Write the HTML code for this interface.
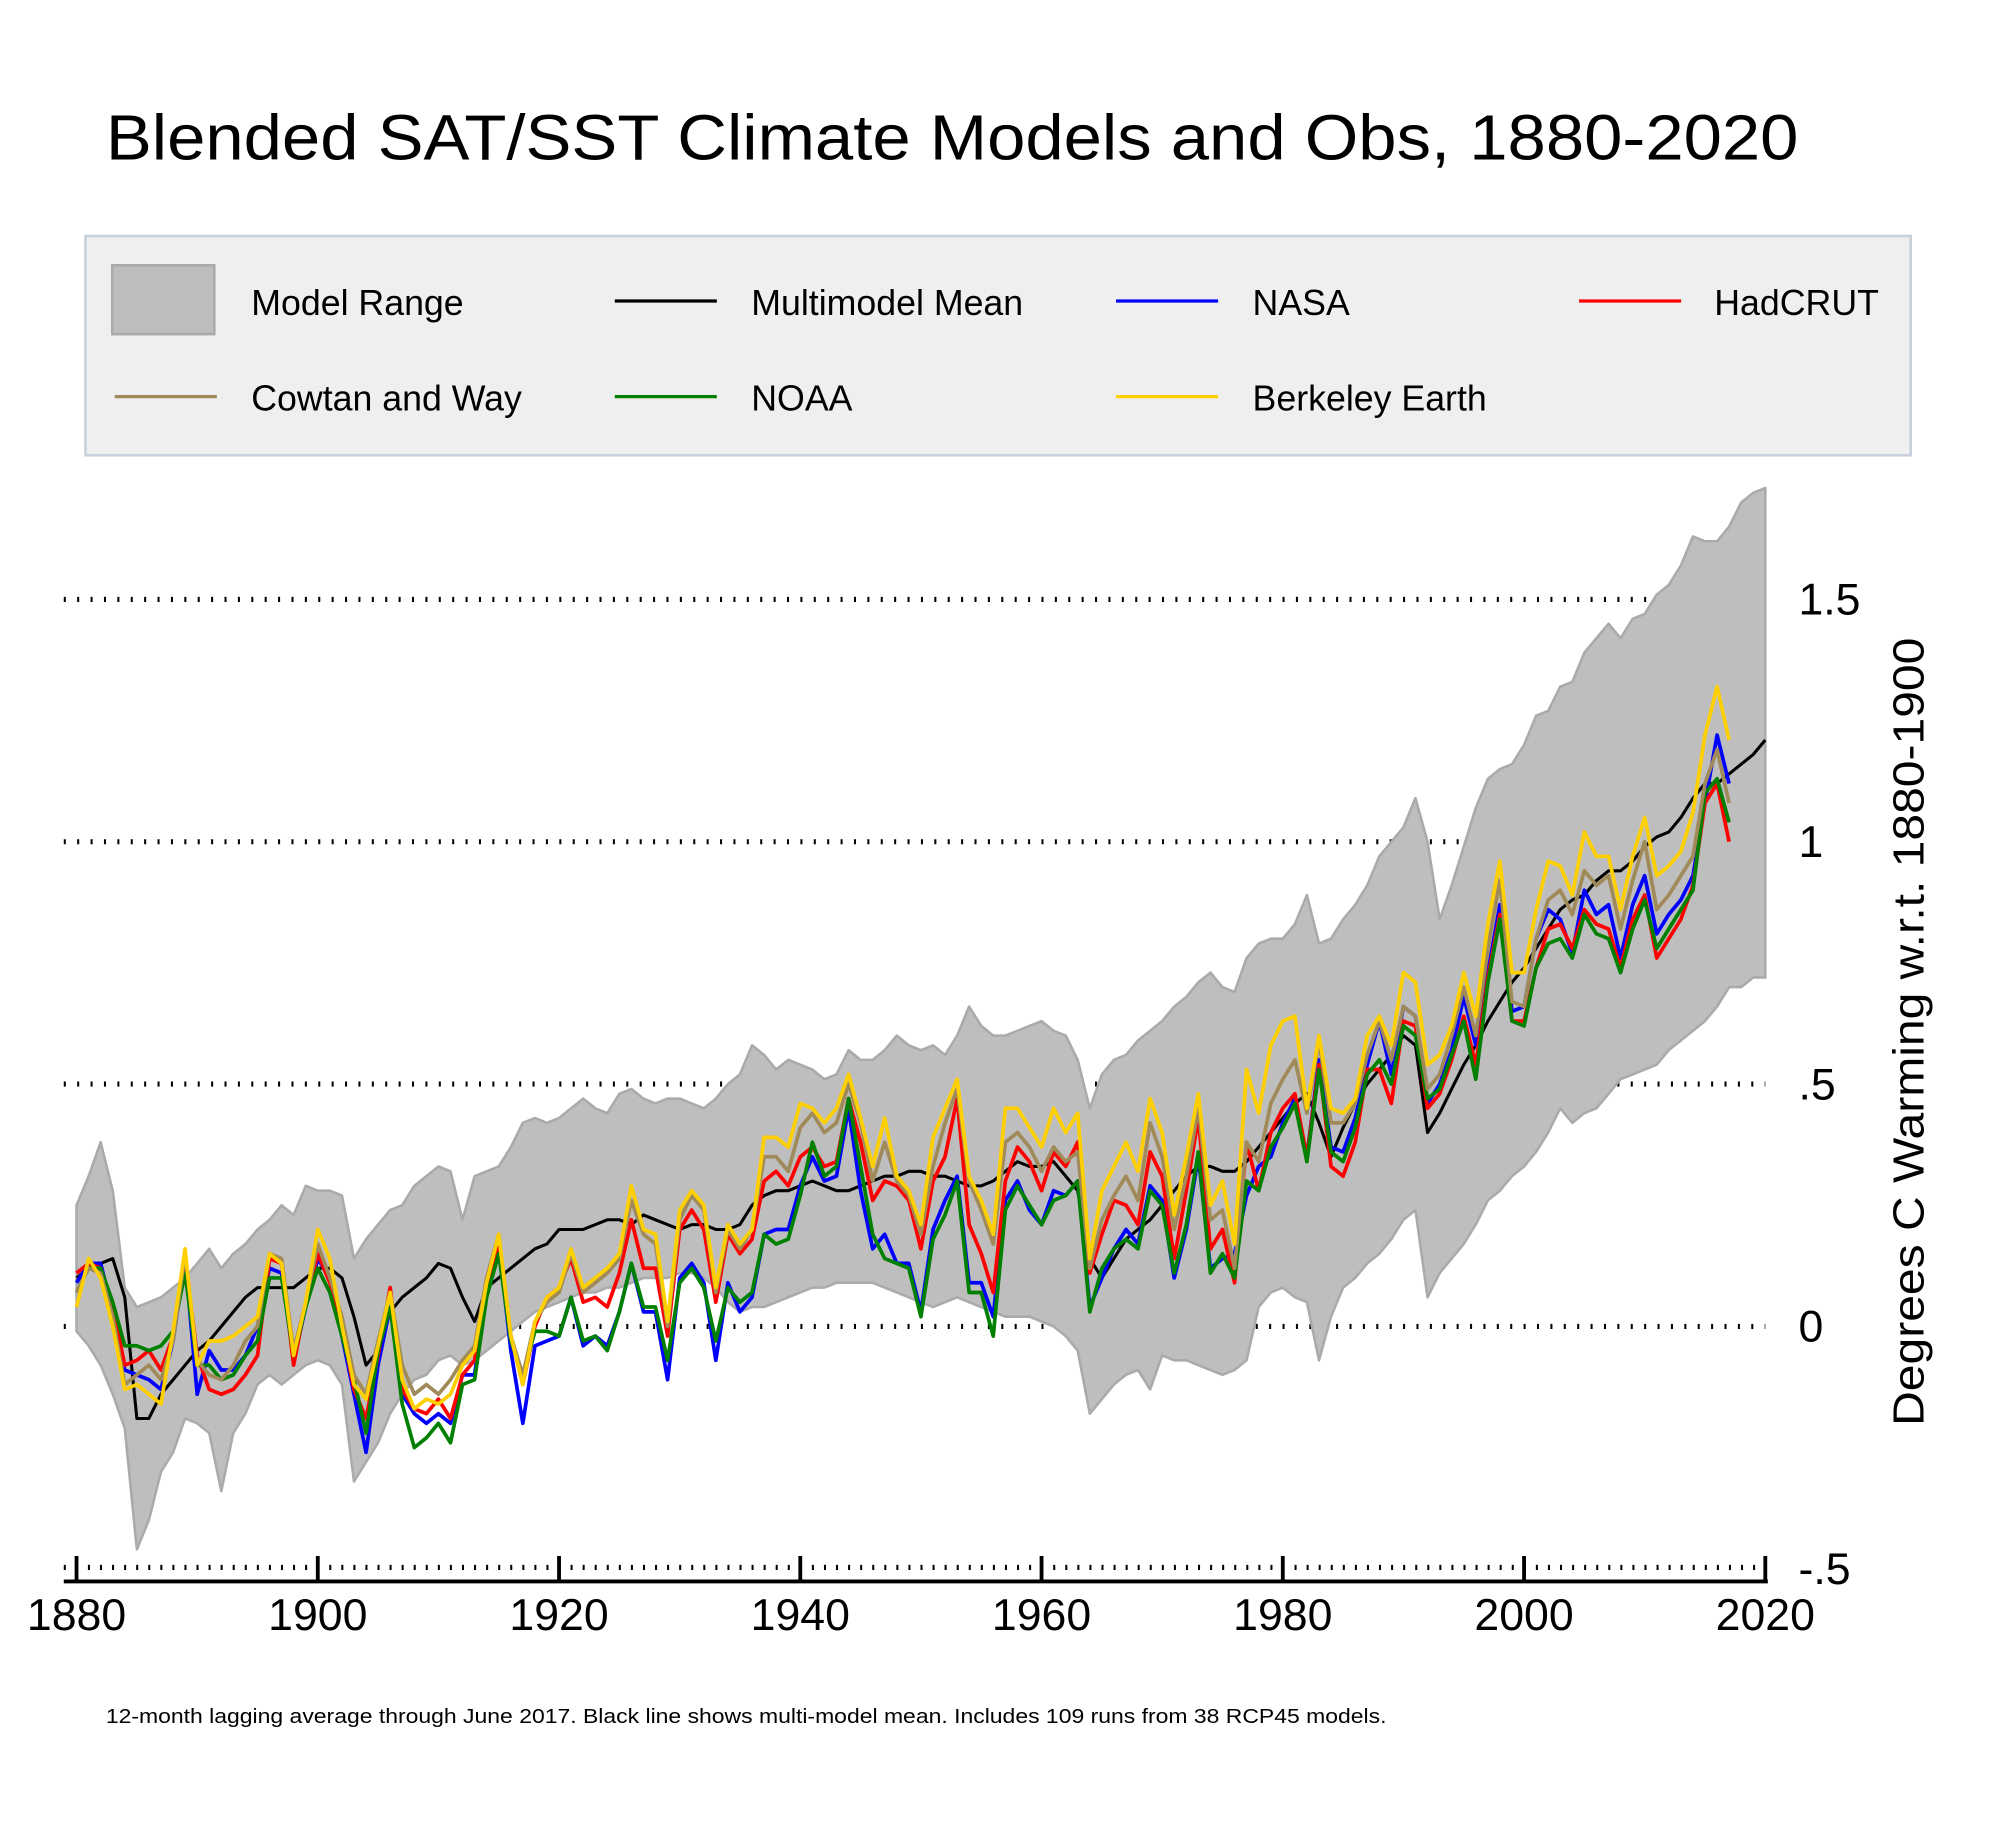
<!DOCTYPE html>
<html><head><meta charset="utf-8"><style>
html,body{margin:0;padding:0;background:#fff}
svg{display:block}
text{font-family:"Liberation Sans",Arial,sans-serif}
</style></head><body>
<svg id="chart" width="2000" height="1834" viewBox="0 0 1568 1438" preserveAspectRatio="none" xmlns="http://www.w3.org/2000/svg">
<rect x="0" y="0" width="1568" height="1438" fill="#fff"/>
<text x="83" y="125" font-size="50" textLength="1327" lengthAdjust="spacingAndGlyphs">Blended SAT/SST Climate Models and Obs, 1880-2020</text>
<g>
<rect x="67" y="185" width="1431" height="172" fill="#efefef" stroke="#c8d0dc" stroke-width="2"/>
<g><rect x="88" y="208" width="80" height="54" fill="#bdbdbd" stroke="#aaa" stroke-width="2"/><text x="197" y="247" font-size="28">Model Range</text></g>
<g><line x1="482" y1="236" x2="562" y2="236" stroke="#000" stroke-width="2.5"/><text x="589" y="247" font-size="28">Multimodel Mean</text></g>
<g><line x1="875" y1="236" x2="955" y2="236" stroke="#0000ff" stroke-width="2.5"/><text x="982" y="247" font-size="28">NASA</text></g>
<g><line x1="1238" y1="236" x2="1318" y2="236" stroke="#ff0000" stroke-width="2.5"/><text x="1344" y="247" font-size="28">HadCRUT</text></g>
<g><line x1="90" y1="311" x2="170" y2="311" stroke="#a08a5a" stroke-width="2.5"/><text x="197" y="322" font-size="28">Cowtan and Way</text></g>
<g><line x1="482" y1="311" x2="562" y2="311" stroke="#008000" stroke-width="2.5"/><text x="589" y="322" font-size="28">NOAA</text></g>
<g><line x1="875" y1="311" x2="955" y2="311" stroke="#ffd000" stroke-width="2.5"/><text x="982" y="322" font-size="28">Berkeley Earth</text></g>
</g>
<g id="grid"></g>
<g id="band"></g>
<g id="series"></g>
<g id="axes"></g>
<text transform="translate(1508,809) rotate(-90)" text-anchor="middle" font-size="34" textLength="618" lengthAdjust="spacingAndGlyphs">Degrees C Warming w.r.t. 1880-1900</text>
<text x="83" y="1351" font-size="16" textLength="1004" lengthAdjust="spacingAndGlyphs">12-month lagging average through June 2017. Black line shows multi-model mean. Includes 109 runs from 38 RCP45 models.</text>
</svg>
<script>
const rangeUpper=[.25,.31,.38,.28,.08,.04,.05,.06,.08,.10,
.13,.16,.12,.15,.17,.20,.22,.25,.23,.29,
.28,.28,.27,.14,.18,.21,.24,.25,.29,.31,
.33,.32,.22,.31,.32,.33,.37,.42,.43,.42,
.43,.45,.47,.45,.44,.48,.49,.47,.46,.47,
.47,.46,.45,.47,.50,.52,.58,.56,.53,.55,
.54,.53,.51,.52,.57,.55,.55,.57,.60,.58,
.57,.58,.56,.60,.66,.62,.60,.60,.61,.62,
.63,.61,.60,.55,.45,.52,.55,.56,.59,.61,
.63,.66,.68,.71,.73,.70,.69,.76,.79,.80,
.80,.83,.89,.79,.80,.84,.87,.91,.97,1.00,
1.03,1.09,1.00,.84,.91,.99,1.07,1.13,1.15,1.16,
1.20,1.26,1.27,1.32,1.33,1.39,1.42,1.45,1.42,1.46,
1.47,1.51,1.53,1.57,1.63,1.62,1.62,1.65,1.70,1.72,1.73];
const rangeLower=[-.01,-.04,-.08,-.14,-.21,-.46,-.40,-.30,-.26,-.19,
-.20,-.22,-.34,-.22,-.18,-.12,-.10,-.12,-.10,-.08,
-.07,-.08,-.12,-.32,-.28,-.24,-.18,-.14,-.11,-.10,
-.07,-.06,-.08,-.07,-.05,-.03,-.01,.01,.03,.04,
.05,.06,.07,.07,.08,.08,.09,.10,.10,.10,
.11,.11,.10,.08,.05,.03,.04,.04,.05,.06,
.07,.08,.08,.09,.09,.09,.09,.08,.07,.06,
.05,.04,.05,.06,.05,.04,.03,.02,.02,.02,
.01,.00,-.02,-.05,-.18,-.15,-.12,-.10,-.09,-.13,
-.06,-.07,-.07,-.08,-.09,-.10,-.09,-.07,.04,.07,
.08,.06,.05,-.07,.02,.08,.10,.13,.15,.18,
.22,.24,.06,.11,.14,.17,.21,.26,.28,.31,
.33,.36,.40,.45,.42,.44,.45,.48,.51,.52,
.53,.54,.57,.59,.61,.63,.66,.70,.70,.72,.72];
const meanVals=[.10,.12,.13,.14,.06,-.19,-.19,-.14,-.11,-.08,
-.05,-.03,.00,.03,.06,.08,.08,.08,.08,.10,
.12,.12,.10,.02,-.08,-.05,.03,.06,.08,.10,
.13,.12,.06,.01,.08,.10,.12,.14,.16,.17,
.20,.20,.20,.21,.22,.22,.21,.23,.22,.21,
.20,.21,.21,.20,.20,.21,.25,.27,.28,.28,
.29,.30,.29,.28,.28,.29,.30,.31,.31,.32,
.32,.31,.31,.30,.29,.29,.30,.32,.34,.33,
.33,.34,.31,.28,.14,.10,.14,.18,.20,.22,
.25,.28,.31,.33,.33,.32,.32,.34,.37,.40,
.43,.46,.48,.42,.35,.41,.46,.50,.53,.56,
.60,.58,.40,.44,.49,.54,.58,.63,.67,.71,
.74,.78,.82,.86,.88,.89,.92,.94,.94,.96,
.99,1.01,1.02,1.05,1.09,1.12,1.12,1.14,1.16,1.18,1.21];
const nasaVals=[.09,.13,.13,.03,-.09,-.10,-.11,-.13,-.03,.14,
-.14,-.05,-.09,-.09,-.06,.00,.12,.11,-.07,.04,
.14,.10,-.02,-.14,-.26,-.08,.04,-.14,-.18,-.20,
-.18,-.20,-.10,-.10,.08,.17,-.05,-.20,-.04,-.03,
-.02,.06,-.04,-.02,-.04,.03,.13,.03,.03,-.11,
.10,.13,.09,-.07,.09,.03,.06,.19,.20,.20,
.29,.35,.30,.31,.45,.28,.16,.19,.13,.13,
.03,.20,.26,.31,.09,.09,.02,.26,.30,.24,
.21,.28,.27,.30,.04,.10,.16,.20,.17,.29,
.26,.10,.20,.35,.12,.14,.15,.27,.33,.35,
.42,.47,.35,.55,.37,.36,.43,.54,.63,.52,
.66,.64,.46,.50,.57,.68,.58,.73,.87,.65,
.66,.80,.86,.84,.77,.90,.85,.87,.76,.87,
.93,.81,.85,.88,.93,1.08,1.22,1.12];
const noaaVals=[.07,.12,.12,.05,-.04,-.04,-.05,-.04,-.01,.11,
-.08,-.08,-.11,-.10,-.06,-.03,.10,.10,-.06,.04,
.12,.07,-.02,-.11,-.22,-.05,.04,-.16,-.25,-.23,
-.20,-.24,-.12,-.11,.06,.15,-.03,-.10,-.01,-.01,
-.02,.06,-.03,-.02,-.05,.03,.13,.04,.04,-.07,
.09,.12,.08,-.03,.08,.05,.07,.19,.17,.18,
.27,.38,.31,.33,.47,.33,.19,.14,.13,.12,
.02,.18,.23,.30,.07,.07,-.02,.24,.29,.25,
.21,.26,.27,.30,.03,.12,.16,.18,.16,.28,
.25,.11,.21,.36,.11,.15,.10,.30,.28,.37,
.41,.46,.34,.53,.36,.34,.41,.52,.55,.50,
.62,.60,.47,.49,.56,.63,.51,.71,.84,.63,
.62,.74,.79,.80,.76,.85,.81,.80,.73,.82,
.88,.78,.82,.86,.90,1.10,1.13,1.04];
const hadcrutVals=[.11,.13,.12,.04,-.08,-.07,-.05,-.09,-.02,.14,
-.06,-.13,-.14,-.13,-.10,-.06,.14,.13,-.08,.05,
.15,.09,.00,-.13,-.19,-.06,.08,-.13,-.17,-.18,
-.15,-.19,-.10,-.07,.08,.17,-.02,-.12,.00,.06,
.08,.14,.05,.06,.04,.11,.22,.12,.12,-.02,
.20,.24,.20,.05,.19,.15,.18,.30,.32,.29,
.35,.37,.33,.34,.47,.38,.26,.30,.29,.26,
.16,.30,.35,.47,.21,.15,.07,.30,.37,.34,
.28,.36,.33,.38,.11,.19,.26,.25,.21,.36,
.31,.14,.28,.43,.16,.20,.09,.38,.28,.40,
.45,.48,.35,.54,.33,.31,.38,.53,.53,.46,
.63,.62,.45,.48,.55,.64,.54,.72,.85,.63,
.63,.74,.82,.83,.78,.86,.83,.82,.74,.84,
.89,.76,.80,.84,.91,1.08,1.12,1.00];
const cowtanVals=[.07,.12,.11,.02,-.12,-.10,-.08,-.11,-.03,.15,
-.07,-.10,-.11,-.08,-.03,.00,.15,.14,-.05,.05,
.17,.10,.02,-.10,-.14,-.03,.07,-.08,-.14,-.12,
-.14,-.11,-.07,-.04,.10,.19,-.02,-.10,.01,.05,
.07,.15,.07,.09,.11,.14,.26,.19,.17,.00,
.22,.27,.24,.07,.20,.16,.20,.35,.35,.32,
.41,.44,.40,.42,.50,.42,.30,.38,.30,.27,
.19,.33,.42,.49,.30,.24,.17,.38,.40,.37,
.32,.37,.34,.36,.12,.22,.27,.31,.26,.42,
.35,.20,.31,.45,.22,.24,.12,.38,.34,.46,
.51,.55,.44,.59,.42,.42,.46,.56,.63,.55,
.66,.64,.49,.52,.60,.70,.60,.78,.92,.67,
.66,.80,.88,.90,.85,.94,.91,.93,.82,.92,
1.00,.86,.89,.93,.97,1.12,1.19,1.08];
const berkeleyVals=[.04,.14,.10,.00,-.13,-.12,-.14,-.16,-.01,.16,
-.08,-.03,-.03,-.02,.00,.02,.15,.13,-.06,.05,
.20,.14,.00,-.12,-.15,-.04,.07,-.11,-.17,-.15,
-.16,-.14,-.08,-.05,.09,.19,-.02,-.12,.01,.06,
.08,.16,.08,.10,.12,.15,.29,.20,.19,.01,
.24,.28,.25,.08,.21,.17,.20,.39,.39,.37,
.46,.45,.42,.45,.52,.43,.33,.43,.31,.28,
.21,.39,.45,.51,.31,.26,.19,.45,.45,.41,
.37,.45,.40,.44,.14,.28,.33,.38,.32,.47,
.40,.23,.35,.48,.25,.30,.17,.53,.44,.58,
.63,.64,.45,.60,.45,.44,.47,.60,.64,.58,
.73,.71,.54,.56,.62,.73,.64,.83,.96,.73,
.73,.86,.96,.95,.89,1.02,.97,.97,.86,.97,
1.05,.93,.95,.98,1.06,1.22,1.32,1.21];
const xTickLabels=["1880","1900","1920","1940","1960","1980","2000","2020"];
const yTickValues=[1.5,1,0.5,0,-0.5];
const yTickLabels=["1.5","1",".5","0","-.5"];
const startYear=1880;

const NS="http://www.w3.org/2000/svg";
function X(year){return 60+(year-1880)*(1384-60)/140;}
function Y(v){return 1040-v*380;}
function mk(tag,attrs,parent){const e=document.createElementNS(NS,tag);for(const k in attrs)e.setAttribute(k,attrs[k]);parent.appendChild(e);return e;}

const grid=document.getElementById('grid');
yTickValues.forEach((v,i)=>{
  if(v<0)return;
  const g=mk('line',{x1:50,y1:Y(v),x2:1384,y2:Y(v),stroke:'#000','stroke-width':4,'stroke-dasharray':'1.6 8.9'},grid);
  
  
});

const band=document.getElementById('band');
let d='';
rangeUpper.forEach((v,i)=>{d+=(i?'L':'M')+X(startYear+i).toFixed(1)+','+Y(v).toFixed(1);});
for(let i=rangeLower.length-1;i>=0;i--){d+='L'+X(startYear+i).toFixed(1)+','+Y(rangeLower[i]).toFixed(1);}
d+='Z';
const bp=mk('path',{d:d,fill:'#bebebe',stroke:'#aaaaaa','stroke-width':2,'stroke-linejoin':'round'},band);



const series=document.getElementById('series');
function line(vals,color,name,w){
  let p='';vals.forEach((v,i)=>{p+=(i?'L':'M')+X(startYear+i).toFixed(1)+','+Y(v).toFixed(1);});
  const el=mk('path',{d:p,fill:'none',stroke:color,'stroke-width':w,'stroke-linejoin':'round'},series);
  
  
}
line(meanVals,'#000','multimodel-mean-line',2.4);
line(nasaVals,'#0000ff','nasa-line',2.9);
line(hadcrutVals,'#ff0000','hadcrut-line',2.9);
line(noaaVals,'#008000','noaa-line',2.9);
line(cowtanVals,'#a08a5a','cowtan-way-line',2.9);
line(berkeleyVals,'#ffd000','berkeley-line',2.9);

const axes=document.getElementById('axes');
const ax=mk('line',{x1:50,y1:1240,x2:1386,y2:1240,stroke:'#000','stroke-width':3},axes);


const mt=mk('line',{x1:50,y1:1229,x2:1384,y2:1229,stroke:'#000','stroke-width':4,'stroke-dasharray':'1.6 7.86'},axes);


xTickLabels.forEach(lbl=>{
  const yr=+lbl;
  const t=mk('line',{x1:X(yr),y1:1241,x2:X(yr),y2:1220,stroke:'#000','stroke-width':3},axes);
  
  
  const tx=mk('text',{x:X(yr),y:1278,'text-anchor':'middle','font-size':35},axes);
  tx.textContent=lbl;
  
  
});
yTickValues.forEach((v,i)=>{
  const tx=mk('text',{x:1410,y:Y(v)+12,'font-size':35},axes);
  tx.textContent=yTickLabels[i];
  
  
});
</script>
</body></html>
